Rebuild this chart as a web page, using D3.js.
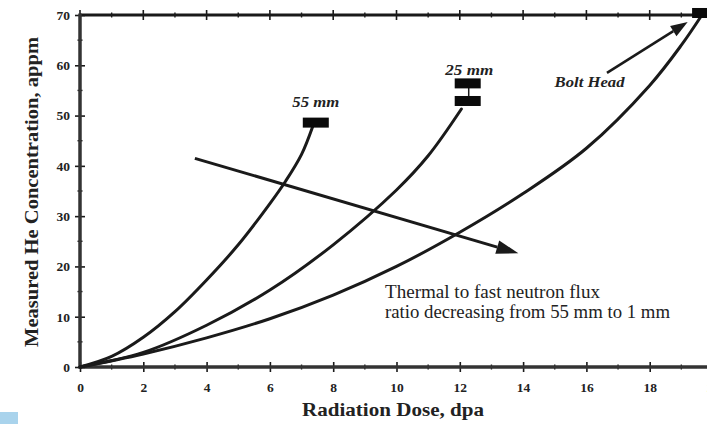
<!DOCTYPE html>
<html>
<head>
<meta charset="utf-8">
<script src="https://cdn.jsdelivr.net/npm/d3@7"></script>
<style>
  html, body { margin: 0; padding: 0; background: #fff; }
  svg { display: block; }
  text { font-family: "Liberation Serif", "Times New Roman", serif; fill: #222; }
</style>
</head>
<body>
<svg id="chart" width="707" height="424"></svg>
<script>
// ---- data ----
const xTicks = [0, 2, 4, 6, 8, 10, 12, 14, 16, 18, 20];
const yTicks = [0, 10, 20, 30, 40, 50, 60, 70];

const dose55 = [0, 1, 2, 3, 4, 5, 6, 6.5, 7, 7.35];
const he55   = [0, 2.1, 5.9, 11, 17.3, 24.3, 32.5, 37, 42.3, 47.8];

const dose25 = [0, 2, 4, 6, 8, 10, 11, 12.05];
const he25   = [0, 2.9, 8.3, 15.3, 24.3, 35.2, 42, 51.3];

const doseBolt = [0, 2, 4, 6, 8, 10, 12, 14, 16, 18, 19, 19.65];
const heBolt   = [0, 2.6, 5.8, 9.6, 14.3, 20.0, 26.8, 34.5, 43.5, 56, 64, 70];

// measured points (marker rectangles)
const markerLabels = ["55 mm", "25 mm", "25 mm", "Bolt Head"];
const markerDose   = [7.45, 12.25, 12.25, 19.75];
const markerHe     = [48.6, 56.4, 52.9, 70.4];

// annotation arrows [x1, y1, x2, y2] in data units
const bigArrow  = [3.63, 41.5, 13.85, 22.6];
const boltArrow = [16.65, 58.5, 19.2, 68.6];

const noteLines = ["Thermal to fast neutron flux", "ratio decreasing from 55 mm to 1 mm"];

// ---- layout ----
const svg = d3.select("#chart");
const x = d3.scaleLinear().domain([0, 20]).range([80, 713]);
const y = d3.scaleLinear().domain([0, 70]).range([367, 15]);
const ink = "#1a1a1a";

// light blue artifact bottom-left
svg.append("rect").attr("x", 0).attr("y", 412).attr("width", 18).attr("height", 12).attr("fill", "#a9d3ec");

// ---- axes ----
const xAxis = svg.append("g").attr("transform", `translate(0,${y(0)})`)
  .call(d3.axisBottom(x).tickValues(xTicks).tickFormat(d3.format("d")).tickSize(5).tickPadding(10));
xAxis.select(".domain").remove();
xAxis.selectAll(".tick line").attr("y1", -5).attr("y2", 5).attr("stroke", ink).attr("stroke-width", 1.6);
xAxis.selectAll(".tick text").attr("font-size", 13.5).attr("font-weight", "bold")
  .attr("font-family", "'Liberation Serif', serif").attr("fill", "#222");

const yAxis = svg.append("g").attr("transform", `translate(${x(0)},0)`)
  .call(d3.axisLeft(y).tickValues(yTicks).tickFormat(d3.format("d")).tickSize(5).tickPadding(5));
yAxis.select(".domain").remove();
yAxis.selectAll(".tick line").attr("x1", -5).attr("x2", 5).attr("stroke", ink).attr("stroke-width", 1.6);
yAxis.selectAll(".tick text").attr("font-size", 13.5).attr("font-weight", "bold")
  .attr("font-family", "'Liberation Serif', serif").attr("fill", "#222");

// minor ticks
const xMinor = d3.range(1, 20, 2);
const yMinor = d3.range(5, 70, 10);
svg.append("g").selectAll("line").data(xMinor).join("line")
  .attr("x1", d => x(d)).attr("x2", d => x(d)).attr("y1", y(0) - 2.5).attr("y2", y(0) + 2.5)
  .attr("stroke", ink).attr("stroke-width", 1.4);
svg.append("g").selectAll("line").data(yMinor).join("line")
  .attr("x1", x(0) - 2.5).attr("x2", x(0) + 2.5).attr("y1", d => y(d)).attr("y2", d => y(d))
  .attr("stroke", ink).attr("stroke-width", 1.4);
// top axis ticks
svg.append("g").selectAll("line").data(xTicks).join("line")
  .attr("x1", d => x(d)).attr("x2", d => x(d)).attr("y1", y(70) - 5).attr("y2", y(70) + 5)
  .attr("stroke", ink).attr("stroke-width", 1.6);
svg.append("g").selectAll("line").data(xMinor).join("line")
  .attr("x1", d => x(d)).attr("x2", d => x(d)).attr("y1", y(70) - 2.5).attr("y2", y(70) + 2.5)
  .attr("stroke", ink).attr("stroke-width", 1.4);

// axis lines
svg.append("line").attr("x1", x(0)).attr("x2", 707).attr("y1", y(0)).attr("y2", y(0))
  .attr("stroke", "#333").attr("stroke-width", 3.5);
svg.append("line").attr("x1", x(0)).attr("x2", 707).attr("y1", y(70)).attr("y2", y(70))
  .attr("stroke", ink).attr("stroke-width", 3);
svg.append("line").attr("x1", x(0)).attr("x2", x(0)).attr("y1", y(70) - 1.5).attr("y2", y(0) + 1.7)
  .attr("stroke", "#333").attr("stroke-width", 3.5);

// axis titles
svg.append("text").attr("x", 393).attr("y", 416).attr("text-anchor", "middle")
  .attr("font-size", 19).attr("font-weight", "bold")
  .attr("textLength", 182).attr("lengthAdjust", "spacingAndGlyphs").text("Radiation Dose, dpa");
svg.append("text").attr("transform", "translate(38,192) rotate(-90)").attr("text-anchor", "middle")
  .attr("font-size", 19).attr("font-weight", "bold")
  .attr("textLength", 310).attr("lengthAdjust", "spacingAndGlyphs").text("Measured He Concentration, appm");

// ---- curves ----
const line = d3.line().x(d => x(d[0])).y(d => y(d[1])).curve(d3.curveCatmullRom.alpha(0.5));
const series = [[dose55, he55], [dose25, he25], [doseBolt, heBolt]];
svg.append("g").selectAll("path").data(series).join("path")
  .attr("d", s => line(s[0].map((v, i) => [v, s[1][i]])))
  .attr("fill", "none").attr("stroke", ink).attr("stroke-width", 3).attr("stroke-linecap", "round");

// link between the two 25 mm markers
svg.append("line").attr("x1", x(markerDose[1]) + 1).attr("x2", x(markerDose[1]) + 1)
  .attr("y1", y(markerHe[1])).attr("y2", y(markerHe[2])).attr("stroke", ink).attr("stroke-width", 1.5);

// markers
svg.append("g").selectAll("rect").data(markerDose).join("rect")
  .attr("x", d => x(d) - 13).attr("y", (d, i) => y(markerHe[i]) - 5)
  .attr("width", 26).attr("height", 10).attr("fill", "#0a0a0a");

// marker labels
const lblPos = [[7.45, 102, 47], [12.3, 70, 48], [16.1, 82, 70]];
const lblText = [markerLabels[0], markerLabels[1], markerLabels[3]];
svg.append("g").selectAll("text").data(lblText).join("text")
  .attr("x", (d, i) => x(lblPos[i][0])).attr("y", (d, i) => lblPos[i][1] + 4.5)
  .attr("text-anchor", "middle").attr("font-size", 14).attr("font-weight", "bold")
  .attr("font-style", "italic")
  .attr("textLength", (d, i) => lblPos[i][2]).attr("lengthAdjust", "spacingAndGlyphs")
  .text(d => d);

// ---- arrows ----
function arrow(a, headLen, headW, sw) {
  const x1 = x(a[0]), y1 = y(a[1]), x2 = x(a[2]), y2 = y(a[3]);
  const ang = Math.atan2(y2 - y1, x2 - x1);
  const bx = x2 - headLen * Math.cos(ang), by = y2 - headLen * Math.sin(ang);
  svg.append("line").attr("x1", x1).attr("y1", y1).attr("x2", bx).attr("y2", by)
    .attr("stroke", ink).attr("stroke-width", sw);
  const px = -Math.sin(ang) * headW / 2, py = Math.cos(ang) * headW / 2;
  svg.append("path").attr("d", `M${x2},${y2}L${bx + px},${by + py}L${bx - px},${by - py}Z`).attr("fill", ink);
}
arrow(bigArrow, 22, 14, 3);
arrow(boltArrow, 17, 12, 2.5);

// note text
const noteLen = [215, 285];
svg.append("g").selectAll("text").data(noteLines).join("text")
  .attr("x", 385).attr("y", (d, i) => 298 + i * 20)
  .attr("font-size", 18)
  .attr("textLength", (d, i) => noteLen[i]).attr("lengthAdjust", "spacingAndGlyphs")
  .text(d => d);
</script>
</body>
</html>
